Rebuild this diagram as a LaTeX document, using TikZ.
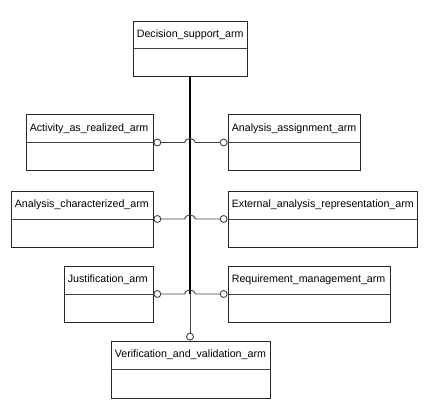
\documentclass[tikz,border=0pt]{standalone}
\usepackage{fontspec}
\setmainfont{Liberation Sans}
\usepackage{tikz}
\usetikzlibrary{calc, positioning}

\tikzset{
  box/.style={draw=black!85, line width=0.7pt, minimum height=42pt, inner sep=0pt},
  divider/.style={draw=black!75, line width=0.7pt},
  title/.style={anchor=west, inner sep=0pt, xshift=3pt, font=\fontsize{8}{9}\selectfont},
  ring/.style={circle, draw=black!80, fill=white, line width=0.6pt, minimum size=5.2pt, inner sep=0pt},
  link/.style={draw=black!75, line width=0.7pt},
  trunk/.style={draw=black, line width=1.5pt},
}

\begin{document}
\begin{tikzpicture}[x=0.75pt, y=-0.75pt]
  \useasboundingbox (0,0) rectangle (436,417);

  \node[box, minimum width=85.5pt, minimum height=41.25pt] (ds) at (190,48.5) {};
  \node[box, minimum width=95.25pt] (aar) at (89.5,142.5) {};
  \node[box, minimum width=99pt] (aas) at (294,142.5) {};
  \node[box, minimum width=106.5pt] (ach) at (82,219) {};
  \node[box, minimum width=141.75pt] (ear) at (322.5,219) {};
  \node[box, minimum width=66.75pt] (jus) at (108.5,294) {};
  \node[box, minimum width=121.5pt] (rma) at (309,294) {};
  \node[box, minimum width=119.25pt, minimum height=42.75pt] (vva) at (190.5,369.5) {};

  \foreach \b in {ds,aar,aas,ach,ear,jus,rma,vva}
    \draw[divider] (\b.west) -- (\b.east);

  \node[title] (ds-t) at ($(ds.north west)!.5!(ds.west)$) {Decision\_support\_arm};
  \node[title] (aar-t) at ($(aar.north west)!.5!(aar.west)$) {Activity\_as\_realized\_arm};
  \node[title] (aas-t) at ($(aas.north west)!.5!(aas.west)$) {Analysis\_assignment\_arm};
  \node[title] (ach-t) at ($(ach.north west)!.5!(ach.west)$) {Analysis\_characterized\_arm};
  \node[title] (ear-t) at ($(ear.north west)!.5!(ear.west)$) {External\_analysis\_representation\_arm};
  \node[title] (jus-t) at ($(jus.north west)!.5!(jus.west)$) {Justification\_arm};
  \node[title] (rma-t) at ($(rma.north west)!.5!(rma.west)$) {Requirement\_management\_arm};
  \node[title] (vva-t) at ($(vva.north west)!.5!(vva.west)$) {Verification\_and\_validation\_arm};

  \coordinate (h1) at (ds.south |- aar.east);
  \coordinate (h2) at (ds.south |- ach.east);
  \coordinate (h3) at (ds.south |- jus.east);

  \draw[trunk] (ds.south) -- (h3);
  \node[ring, anchor=south] (vva-r) at (ds.south |- vva.north) {};
  \draw[link] (h3) -- (vva-r.north);

  \node[ring, anchor=west] (aar-r) at (aar.east) {};
  \node[ring, anchor=east] (aas-r) at (aas.west) {};
  \node[ring, anchor=west] (ach-r) at (ach.east) {};
  \node[ring, anchor=east] (ear-r) at (ear.west) {};
  \node[ring, anchor=west] (jus-r) at (jus.east) {};
  \node[ring, anchor=east] (rma-r) at (rma.west) {};

  \draw[link] (aar-r.east) -- ([xshift=-4pt]h1) arc[start angle=180, end angle=0, x radius=4pt, y radius=3pt] -- (aas-r.west);
  \draw[link] (ach-r.east) -- ([xshift=-4pt]h2) arc[start angle=180, end angle=0, x radius=4pt, y radius=3pt] -- (ear-r.west);
  \draw[link] (jus-r.east) -- ([xshift=-4pt]h3) arc[start angle=180, end angle=0, x radius=4pt, y radius=3pt] -- (rma-r.west);
\end{tikzpicture}
\end{document}
